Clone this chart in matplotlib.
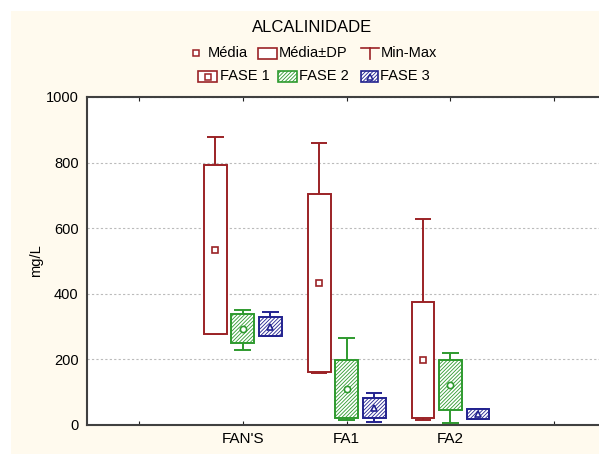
import matplotlib
matplotlib.use("Agg")
import matplotlib.pyplot as plt
from matplotlib.patches import Rectangle
from matplotlib.lines import Line2D
import numpy as np

plt.rcParams['font.family'] = ['Liberation Sans', 'DejaVu Sans']
plt.rcParams['hatch.linewidth'] = 0.6

# Data: alkalinity (mg/L) per sampling point and phase
groups = ["FAN'S", "FA1", "FA2"]
group_pos = [1, 2, 3]

fase1_mean = [534, 433, 198]
fase1_sd = [258, 270, 178]
fase1_min = [276, 159, 15]
fase1_max = [878, 860, 628]

fase2_mean = [293, 110, 122]
fase2_sd = [44, 88, 76]
fase2_min = [229, 15, 6]
fase2_max = [351, 265, 220]

fase3_mean = [300, 52, 34]
fase3_sd = [28, 30, 16]
fase3_min = [272, 9, 18]
fase3_max = [345, 98, 50]

RED = '#9B2226'
GREEN = '#2E9A2E'
BLUE = '#22228F'
CREAM = '#FFFAEE'
HATCH = '/////////'

W, H = 599, 454
fig = plt.figure(figsize=(W / 100, H / 100), dpi=100, facecolor='white')
fig.patches.append(Rectangle((11 / W, 0), 1 - 11 / W, 1 - 11 / H,
                             transform=fig.transFigure, facecolor=CREAM,
                             edgecolor='none', zorder=-10))

ax = fig.add_axes([87 / W, 29 / H, 512 / W, 328 / H])
ax.set_facecolor('white')

series = [
    (fase1_mean, fase1_sd, fase1_min, fase1_max, RED, None, 's', -0.265),
    (fase2_mean, fase2_sd, fase2_min, fase2_max, GREEN, HATCH, 'o', 0.0),
    (fase3_mean, fase3_sd, fase3_min, fase3_max, BLUE, HATCH, '^', 0.265),
]

box_w = 0.22
cap_w = 0.16
for mean, sd, mn, mx, col, hatch, mk, off in series:
    x = np.array(group_pos) + off
    mean = np.array(mean)
    sd = np.array(sd)
    lo = mean - sd
    hi = mean + sd
    ax.bar(x, hi - lo, bottom=lo, width=box_w, facecolor='white',
           edgecolor=col, linewidth=1.4, hatch=hatch, zorder=3)
    ax.vlines(x, hi, mx, color=col, linewidth=1.4, zorder=2)
    ax.vlines(x, mn, lo, color=col, linewidth=1.4, zorder=2)
    ax.hlines(mx, x - cap_w / 2, x + cap_w / 2, color=col, linewidth=1.4, zorder=2)
    ax.hlines(mn, x - cap_w / 2, x + cap_w / 2, color=col, linewidth=1.4, zorder=2)
    ax.plot(x, mean, linestyle='none', marker=mk, markersize=4.5,
            markerfacecolor='white', markeredgecolor=col, markeredgewidth=1.2,
            zorder=4)

ax.set_xlim(-0.5, 4.43)
ax.set_ylim(0, 1000)
ax.set_xticks([0, 1, 2, 3, 4])
ax.set_xticklabels([''] + groups + [''])
ax.set_yticks([0, 200, 400, 600, 800, 1000])
ax.tick_params(axis='x', direction='in', length=3, top=True, labelsize=11,
               color='#202020', pad=5)
ax.tick_params(axis='y', direction='out', length=0, labelsize=10.5, pad=6)
ax.yaxis.grid(True, linestyle=(0, (2, 2)), color='#BBBBBB', linewidth=0.8)
ax.set_axisbelow(True)
for s in ['left', 'bottom', 'top']:
    ax.spines[s].set_color('#404040')
    ax.spines[s].set_linewidth(1.5)
ax.spines['right'].set_visible(False)
ax.set_ylabel('mg/L', fontsize=10.5, labelpad=2)

# Title and legend, placed in figure pixel coordinates (y measured from top)
def fx(px):
    return px / W

def fy(py):
    return 1 - py / H

fig.text(fx(312), fy(27), 'ALCALINIDADE', ha='center', va='center', fontsize=12)

LFS = 10.5
leg_kw = dict(transform=fig.transFigure, figure=fig)
# Row 1
fig.lines.append(Line2D([fx(196)], [fy(53)], marker='s', markersize=4,
                        markerfacecolor='white', markeredgecolor=RED,
                        markeredgewidth=1.1, linestyle='none', **leg_kw))
fig.text(fx(208), fy(53), 'Média', ha='left', va='center', fontsize=LFS)
fig.patches.append(Rectangle((fx(258), fy(59)), fx(277) - fx(258), fy(48) - fy(59),
                             facecolor='white', edgecolor=RED, linewidth=1.2,
                             **leg_kw))
fig.text(fx(279), fy(53), 'Média±DP', ha='left', va='center', fontsize=LFS)
fig.lines.append(Line2D([fx(361), fx(379)], [fy(48), fy(48)], color=RED,
                        linewidth=1.2, **leg_kw))
fig.lines.append(Line2D([fx(370), fx(370)], [fy(48), fy(59)], color=RED,
                        linewidth=1.2, **leg_kw))
fig.text(fx(381), fy(53), 'Min-Max', ha='left', va='center', fontsize=LFS)

# Row 2
row2 = [
    (198, 217, RED, None, 's', 'FASE 1', 220),
    (278, 297, GREEN, HATCH, None, 'FASE 2', 299),
    (361, 378, BLUE, HATCH, '^', 'FASE 3', 380),
]
for x0, x1, col, hatch, mk, label, tx in row2:
    fig.patches.append(Rectangle((fx(x0), fy(82)), fx(x1) - fx(x0), fy(71) - fy(82),
                                 facecolor='white', edgecolor=col, linewidth=1.2,
                                 hatch=hatch, **leg_kw))
    if mk is not None:
        fig.lines.append(Line2D([fx((x0 + x1) / 2)], [fy(76.5)], marker=mk,
                                markersize=4.5, markerfacecolor='white',
                                markeredgecolor=col, markeredgewidth=1.1,
                                linestyle='none', **leg_kw))
    fig.text(fx(tx), fy(76.5), label, ha='left', va='center', fontsize=LFS)

fig.savefig('out.png', dpi=100, facecolor=fig.get_facecolor())
